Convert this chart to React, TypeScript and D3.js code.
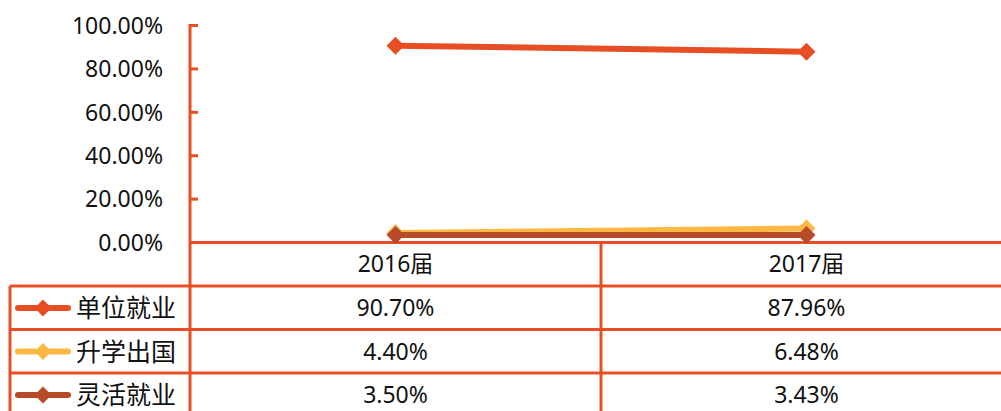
import React from "react";
import * as d3 from "d3";

const categories = ["2016届", "2017届"];
const seriesNames = ["单位就业", "升学出国", "灵活就业"];
const unitEmployment = [90.7, 87.96];
const furtherStudy = [4.4, 6.48];
const flexibleEmployment = [3.5, 3.43];
const yTicks = [0, 20, 40, 60, 80, 100];

const seriesValues = [unitEmployment, furtherStudy, flexibleEmployment];
const colors = ["#E84E24", "#FDB843", "#B74A27"];
const axisColor = "#E84E24";

const W = 1001;
const H = 411;
const x0 = 190;
const x1 = 1012;
const y0 = 242.5;
const yTop = 25.5;

export default function App() {
  const x = d3.scaleBand<string>().domain(categories).range([x0, x1]).paddingInner(0).paddingOuter(0);
  const y = d3.scaleLinear().domain([0, 100]).range([y0, yTop]);
  const fmt = (v: number) => v.toFixed(2) + "%";
  const line = d3
    .line<number>()
    .x((_, i) => (x(categories[i]) as number) + x.bandwidth() / 2)
    .y((v) => y(v));

  const rowLines = [286, 329.5, 373];
  const rowCenters = [264, 308, 351.5, 395];
  const font = "'Noto Sans', 'Noto Sans CJK SC', sans-serif";
  const fs = 23;
  const diamond = (cx: number, cy: number, r: number) =>
    `M${cx},${cy - r}L${cx + r},${cy}L${cx},${cy + r}L${cx - r},${cy}Z`;

  return (
    <svg width={W} height={H} style={{ position: "absolute", left: 0, top: 0 }}>
      <rect width={W} height={H} fill="#fff" />
      {yTicks.map((t) => (
        <text key={t} x={163} y={y(t)} dy="0.36em" textAnchor="end" fontFamily={font} fontSize={fs} fill="#111">
          {fmt(t)}
        </text>
      ))}
      {yTicks.map((t) => (
        <line key={"t" + t} x1={x0} x2={x0 + 8} y1={y(t)} y2={y(t)} stroke={axisColor} strokeWidth={3} />
      ))}
      <line x1={x0} x2={x0} y1={yTop - 1.5} y2={H} stroke={axisColor} strokeWidth={3} />
      <line x1={x0} x2={W} y1={y0} y2={y0} stroke={axisColor} strokeWidth={3} />
      {rowLines.map((ry) => (
        <line key={ry} x1={10} x2={W} y1={ry} y2={ry} stroke={axisColor} strokeWidth={3} />
      ))}
      <line x1={10} x2={10} y1={rowLines[0]} y2={H} stroke={axisColor} strokeWidth={3} />
      {categories.slice(1).map((c) => (
        <line key={c} x1={x(c) as number} x2={x(c) as number} y1={y0} y2={H} stroke={axisColor} strokeWidth={3} />
      ))}
      {categories.map((c) => (
        <text
          key={c}
          x={(x(c) as number) + x.bandwidth() / 2}
          y={rowCenters[0]}
          dy="0.36em"
          textAnchor="middle"
          fontFamily={font}
          fontSize={fs}
          fill="#111"
        >
          {c}
        </text>
      ))}
      {seriesNames.map((name, si) => (
        <g key={name}>
          <line x1={18} x2={68} y1={rowCenters[si + 1]} y2={rowCenters[si + 1]} stroke={colors[si]} strokeWidth={6} strokeLinecap="round" />
          <path d={diamond(43, rowCenters[si + 1], 8.5)} fill={colors[si]} />
          <text x={76} y={rowCenters[si + 1]} dy="0.36em" fontFamily={font} fontSize={25} fill="#111">
            {name}
          </text>
          {seriesValues[si].map((v, i) => (
            <text
              key={i}
              x={(x(categories[i]) as number) + x.bandwidth() / 2}
              y={rowCenters[si + 1]}
              dy="0.36em"
              textAnchor="middle"
              fontFamily={font}
              fontSize={fs}
              fill="#111"
            >
              {fmt(v)}
            </text>
          ))}
        </g>
      ))}
      {seriesValues.map((vals, si) => (
        <g key={si}>
          <path d={line(vals) as string} fill="none" stroke={colors[si]} strokeWidth={6} />
          {vals.map((v, i) => (
            <path key={i} d={diamond((x(categories[i]) as number) + x.bandwidth() / 2, y(v), 9)} fill={colors[si]} />
          ))}
        </g>
      ))}
    </svg>
  );
}
